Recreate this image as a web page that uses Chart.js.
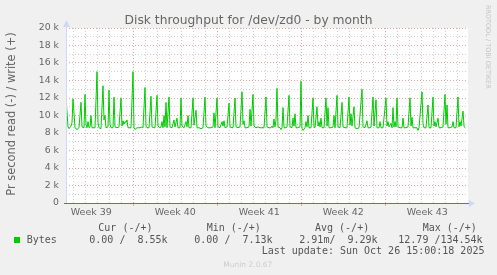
<!DOCTYPE html>
<html>
<head>
<meta charset="utf-8">
<title>Disk throughput for /dev/zd0 - by month</title>
<script src="https://cdn.jsdelivr.net/npm/chart.js@4.4.1/dist/chart.umd.min.js"></script>
<style>
  html, body { margin: 0; padding: 0; background: #f0f0f0; }
  #wrap { position: relative; width: 497px; height: 275px; overflow: hidden; background: #f0f0f0;
          font-family: "DejaVu Sans", sans-serif; color: #666; }
  #graph { position: absolute; left: 0; top: 0; }
  .txt { position: absolute; white-space: pre; line-height: 1; font-weight: normal; }
  .mono { font-family: "DejaVu Sans Mono", monospace; font-size: 10px; color: #555; }
</style>
</head>
<body>
<div id="wrap">
  <canvas id="graph" width="497" height="275"></canvas>
  <div class="txt" style="left:0;top:13.5px;width:497px;text-align:center;font-size:12.3px;">Disk throughput for /dev/zd0 - by month</div>
  <div class="txt" style="left:-89px;top:108px;width:200px;height:12px;line-height:12px;text-align:center;font-size:11.4px;color:#666;transform:rotate(-90deg);">Pr second read (-) / write (+)</div>
  <div class="txt" style="left:484.7px;top:5px;font-size:6.5px;color:#c4c4c4;writing-mode:vertical-rl;">RRDTOOL / TOBI OETIKER</div>
  <div id="legend"></div>
  <div class="txt" style="left:223.3px;top:260.6px;font-size:7.5px;color:#cccccc;">Munin 2.0.67</div>
</div>
<script>
// 2-hour samples since the left edge of the month graph
const sampleIdx = [
  0, 2, 3, 5, 6, 7, 9, 11, 13, 15,
  16, 18, 19, 20, 21, 22, 23, 24, 25, 26,
  29, 31, 32, 33, 35, 37, 38, 39, 40, 42,
  43, 44, 45, 47, 48, 49, 51, 53, 55, 56,
  57, 58, 59, 60, 61, 62, 65, 67, 68, 69,
  71, 74, 76, 77, 79, 80, 81, 83, 85, 86,
  88, 89, 91, 92, 94, 95, 96, 97, 98, 99,
  100, 101, 103, 104, 106, 108, 109, 111, 112, 114,
  115, 116, 118, 120, 121, 122, 123, 125, 127, 128,
  130, 131, 133, 135, 137, 139, 140, 142, 145, 147,
  148, 149, 151, 152, 154, 156, 157, 158, 159, 161,
  163, 164, 166, 167, 169, 170, 172, 174, 176, 177,
  178, 179, 181, 183, 184, 185, 187, 188, 190, 192,
  194, 196, 198, 200, 201, 203, 205, 206, 207, 208,
  209, 210, 211, 212, 214, 215, 216, 217, 218, 220,
  221, 223, 224, 226, 227, 228, 229, 230, 232, 234,
  235, 236, 237, 239, 240, 241, 242, 243, 245, 247,
  248, 249, 251, 252, 253, 254, 255, 256, 258, 260,
  261, 262, 263, 265, 267, 268, 269, 271, 272, 274,
  276, 277, 279, 281, 283, 284, 285, 286, 288, 289,
  291, 293, 296, 297, 299, 301, 302, 304, 305, 307,
  308, 310, 311, 313, 314, 315, 317, 320, 321, 322,
  323, 325, 326, 327, 328, 329, 330, 331, 332, 334,
  336, 337, 338, 340, 342, 344, 345, 346, 347, 349,
  351, 352, 353, 356, 357, 358, 360, 362, 363, 365,
  367, 368, 369, 370, 372, 373, 375, 377, 379, 380,
  381, 382, 384, 386, 387, 388, 390, 392, 393, 394,
  395, 397, 398, 399
];

// write bytes per second, in k (1000)
const writeK = [
  12.1, 8.7, 8.5, 8.8, 9.2, 11.9, 8.6, 8.4, 8.6, 11.5,
  8.7, 8.6, 12.4, 9.0, 8.6, 9.3, 8.6, 8.7, 10.0, 8.6,
  8.6, 15.0, 9.2, 8.6, 8.5, 13.4, 9.5, 10.0, 8.6, 8.7,
  12.9, 9.0, 8.6, 8.6, 12.1, 8.7, 8.6, 8.7, 12.0, 8.8,
  9.4, 9.0, 9.3, 9.2, 9.5, 8.6, 8.6, 15.0, 8.6, 8.4,
  8.6, 8.6, 8.7, 8.6, 13.2, 8.8, 8.6, 8.6, 12.2, 8.7,
  8.6, 8.6, 12.3, 8.8, 8.6, 8.7, 9.3, 8.6, 10.0, 8.7,
  11.5, 8.6, 12.1, 8.7, 8.6, 9.5, 8.7, 9.7, 8.6, 8.6,
  12.0, 8.8, 8.6, 9.3, 8.7, 10.0, 8.6, 8.6, 12.0, 8.9,
  10.6, 8.6, 8.6, 8.5, 8.6, 12.1, 8.8, 8.6, 8.6, 8.7,
  10.3, 8.6, 12.0, 8.7, 8.6, 9.3, 8.8, 9.4, 8.6, 8.7,
  11.4, 8.7, 8.6, 8.6, 12.0, 8.7, 8.6, 8.7, 12.7, 9.0,
  9.4, 8.6, 8.6, 8.7, 10.7, 8.8, 12.4, 8.8, 8.6, 8.7,
  8.6, 8.6, 8.6, 12.1, 8.7, 8.6, 8.6, 8.8, 8.6, 9.6,
  8.7, 9.5, 13.1, 8.7, 8.6, 8.4, 8.6, 10.9, 8.6, 8.6,
  8.7, 12.3, 8.7, 8.6, 9.7, 8.8, 10.2, 8.6, 8.6, 8.7,
  13.9, 8.5, 8.3, 8.6, 9.3, 8.7, 10.0, 8.6, 8.6, 12.0,
  8.7, 8.6, 11.0, 8.8, 9.3, 8.7, 9.7, 8.6, 8.6, 12.0,
  8.8, 10.9, 8.6, 8.6, 8.7, 10.0, 8.6, 12.3, 8.7, 8.6,
  11.5, 8.7, 8.6, 8.6, 12.1, 8.9, 10.2, 8.8, 11.0, 8.6,
  8.5, 8.6, 13.0, 8.7, 8.6, 9.4, 8.6, 8.6, 8.7, 12.1,
  8.8, 11.8, 8.6, 8.6, 9.3, 8.6, 8.6, 12.0, 8.8, 9.3,
  8.7, 9.1, 8.6, 10.9, 8.7, 9.3, 8.7, 12.0, 8.7, 8.6,
  8.6, 9.7, 8.6, 8.6, 8.7, 12.0, 8.8, 9.8, 8.6, 8.6,
  8.6, 8.3, 8.6, 12.7, 9.0, 8.6, 8.6, 11.2, 8.6, 8.6,
  12.1, 8.8, 9.3, 8.7, 9.7, 8.6, 8.6, 8.7, 12.4, 9.0,
  11.2, 8.6, 8.6, 8.7, 9.3, 8.6, 8.6, 12.1, 8.7, 9.3,
  8.8, 10.5, 8.8, 8.6
];

const weekLabels = ['Week 39', 'Week 40', 'Week 41', 'Week 42', 'Week 43'];
const legendHeads = ['Cur (-/+)', 'Min (-/+)', 'Avg (-/+)', 'Max (-/+)'];
const legendStats = ['0.00 /  8.55k', '0.00 /  7.13k', '2.91m/  9.29k', '12.79 /134.54k'];
const lastUpdate = 'Last update: Sun Oct 26 15:00:18 2025';

// graph geometry, in samples
const X_MAX = 402;
const PER_DAY = 12;
const FIRST_MIDNIGHT = 7.33;   // first day line inside the graph
const MONDAY_OFFSET = 5;       // day line index of the first week boundary

const MAJOR = '#e2a4a4';
const MINOR = '#d0d0d0';
const CLEAR = 'rgba(0,0,0,0)';

// legend text
const legend = document.getElementById('legend');
function addText(txt, left, top, cls) {
  const d = document.createElement('div');
  d.className = 'txt ' + cls;
  d.style.left = left + 'px';
  d.style.top = top + 'px';
  d.textContent = txt;
  legend.appendChild(d);
}
const headX = [98.3, 206.7, 315, 422.7];
const statX = [89.3, 194.3, 299.3, 398.3];
legendHeads.forEach((h, i) => addText(h, headX[i], 223, 'mono'));
legendStats.forEach((s, i) => addText(s, statX[i], 234.6, 'mono'));
addText('Bytes', 26.7, 234.6, 'mono');
addText(lastUpdate, 261.7, 246.4, 'mono');
const sq = document.createElement('div');
sq.style.cssText = 'position:absolute;left:14px;top:236.5px;width:6px;height:6px;background:#00cc00;';
legend.appendChild(sq);

// white canvas + munin style axes with arrows
const muninAxes = {
  id: 'muninAxes',
  beforeDraw(chart) {
    const {ctx, chartArea: a} = chart;
    ctx.save();
    ctx.fillStyle = '#ffffff';
    ctx.fillRect(a.left, a.top, a.right - a.left, a.bottom - a.top);
    ctx.restore();
  },
  afterDraw(chart) {
    const {ctx, chartArea: a} = chart;
    const x0 = Math.round(a.left) + 0.5;
    const y0 = Math.round(a.bottom) + 0.5;
    ctx.save();
    ctx.lineWidth = 1;
    ctx.strokeStyle = '#cfd6f8';
    ctx.beginPath();
    ctx.moveTo(x0, y0);
    ctx.lineTo(x0, a.top - 5);
    ctx.stroke();
    ctx.fillStyle = '#cfd6f8';
    ctx.beginPath();
    ctx.moveTo(x0 - 3.5, a.top - 1);
    ctx.lineTo(x0 + 3.5, a.top - 1);
    ctx.lineTo(x0, a.top - 8);
    ctx.closePath();
    ctx.fill();
    ctx.beginPath();
    ctx.moveTo(a.right + 1, y0 - 3.5);
    ctx.lineTo(a.right + 1, y0 + 3.5);
    ctx.lineTo(a.right + 7, y0);
    ctx.closePath();
    ctx.fill();
    ctx.strokeStyle = '#6e6e8c';
    ctx.beginPath();
    ctx.moveTo(a.left - 2, y0);
    ctx.lineTo(a.right + 1, y0);
    ctx.stroke();
    ctx.restore();
  }
};

Chart.defaults.font.family = '"DejaVu Sans", sans-serif';
Chart.defaults.color = '#666';

new Chart(document.getElementById('graph'), {
  type: 'line',
  data: {
    datasets: [{
      label: 'Bytes',
      data: sampleIdx.map((s, i) => ({x: s, y: writeK[i]})),
      borderColor: '#00cc00',
      borderWidth: 1,
      pointRadius: 0,
      tension: 0,
      fill: false
    }]
  },
  options: {
    responsive: false,
    animation: false,
    layout: { padding: { left: 0, top: 28, right: 29, bottom: 52 } },
    plugins: { legend: { display: false }, tooltip: { enabled: false } },
    scales: {
      x: {
        type: 'linear',
        min: 0,
        max: X_MAX,
        afterBuildTicks(scale) {
          const ticks = [];
          for (let k = 0; FIRST_MIDNIGHT + k * PER_DAY < X_MAX; k++) {
            const kind = (k - MONDAY_OFFSET) % 7 === 0 ? 'week' : 'day';
            ticks.push({value: FIRST_MIDNIGHT + k * PER_DAY, kind});
          }
          weekLabels.forEach((t, i) => {
            const mid = FIRST_MIDNIGHT + (MONDAY_OFFSET + 7 * i) * PER_DAY - 3.5 * PER_DAY;
            ticks.push({value: mid, kind: 'label', text: t});
          });
          ticks.sort((p, q) => p.value - q.value);
          scale.ticks = ticks;
        },
        afterFit(scale) { scale.height = 20; },
        border: { display: false, dash: [1, 2] },
        grid: {
          color: c => !c.tick ? CLEAR : c.tick.kind === 'week' ? MAJOR : c.tick.kind === 'day' ? MINOR : CLEAR,
          tickColor: c => c.tick && c.tick.kind === 'week' ? MAJOR : CLEAR,
          drawTicks: true,
          tickLength: 3,
          lineWidth: 1
        },
        ticks: {
          autoSkip: false,
          maxRotation: 0,
          minRotation: 0,
          padding: 1,
          font: { size: 9.5 },
          color: '#666',
          callback: (v, i, ticks) => ticks[i].kind === 'label' ? ticks[i].text : ''
        }
      },
      y: {
        min: 0,
        max: 20,
        afterBuildTicks(scale) {
          const ticks = [];
          for (let v = 0; v <= 20; v++) ticks.push({value: v});
          scale.ticks = ticks;
        },
        afterFit(scale) { scale.width = 66; },
        border: { display: false, dash: [1, 2] },
        grid: {
          color: c => !c.tick || c.tick.value === 0 ? CLEAR : c.tick.value % 2 === 0 ? MAJOR : MINOR,
          drawTicks: false,
          lineWidth: 1
        },
        ticks: {
          autoSkip: false,
          padding: 7,
          font: { size: 9.3 },
          color: '#666',
          callback: v => v % 2 !== 0 ? '' : v === 0 ? '0' : v + ' k'
        }
      }
    }
  },
  plugins: [muninAxes]
});
</script>
</body>
</html>
